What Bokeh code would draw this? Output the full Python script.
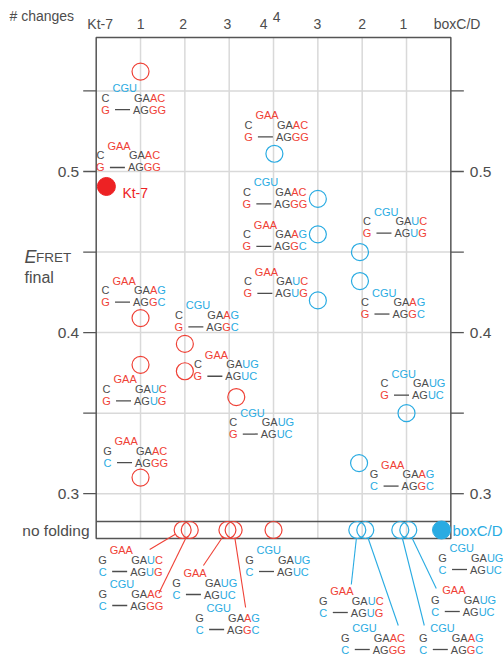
import math
from bokeh.plotting import figure
from bokeh.models import Range1d, ColumnDataSource
from bokeh.core.properties import value
from bokeh.embed import file_html
from bokeh.resources import INLINE

# ---------------- data ----------------
# top category labels (# changes away from Kt-7 on the left, from boxC/D on the right)
change_labels = ["Kt-7", "1", "2", "3", "4", "4", "3", "2", "1", "boxC/D"]
change_pos = [0.09, 1.0, 1.96, 2.96, 3.78, 4.07, 4.99, 6.0, 6.93, 8.14]

# E_FRET axis ticks
ytick_values = [0.3, 0.35, 0.4, 0.45, 0.5, 0.55]
ytick_labels = ["0.3", "", "0.4", "", "0.5", ""]

# sequence code: loop / closing pair / position 3 / position 4 ; K = Kt-7 like, B = boxC/D like
# variants measured in the Kt-7 context (red)
kt_x = [1.0, 1.0, 1.0, 1.0, 2.0, 2.0, 3.16]
kt_efret = [0.562, 0.409, 0.380, 0.310, 0.393, 0.376, 0.360]
kt_seq = ["BKKK", "KKKB", "KKBK", "KBKK", "BKKB", "KKBB", "BKBB"]

# variants measured in the boxC/D context (blue)
box_x = [4.02, 5.0, 5.0, 5.0, 5.95, 5.95, 5.93, 7.0]
box_efret = [0.511, 0.483, 0.461, 0.420, 0.450, 0.432, 0.319, 0.350]
box_seq = ["KKKK", "BKKK", "KKKB", "KKBK", "BKBK", "BKKB", "KBKB", "BKBB"]

# references
kt7_x, kt7_efret, kt7_seq = 0.23, 0.4907, "KKKK"
boxcd_x, boxcd_seq = 7.79, "BBBB"

# variants that do not fold
nf_kt_x = [1.95, 2.11, 2.96, 3.10, 4.0]
nf_kt_seq = ["KBBK", "BBKK", "KBBB", "BBKB", "BBBB"]
nf_box_x = [5.89, 6.07, 6.86, 7.04]
nf_box_seq = ["KBBK", "BBKK", "BBKB", "KBBB"]

# ---------------- style / layout ----------------
FONT = "Liberation Sans"
RED = "#EF4136"
RED_DOT = "#ED2224"
BLUE = "#29ABE2"
GREY = "#4D4D4D"
GRID = "#D9D9D9"
FRAME = "#555555"

W, H = 503, 655
U_PX, U0_PX = 44.33, 95.7          # px per category unit, px of u = 0
V_PX, V_REF, V_REF_PX = 1611.0, 0.5, 171.0
X0 = (0 - U0_PX) / U_PX
X1 = X0 + W / U_PX
Y1 = V_REF + (V_REF_PX - 0) / V_PX
Y0 = Y1 - H / V_PX


def px_x(u):
    return U0_PX + u * U_PX


def px_y(v):
    return V_REF_PX - (v - V_REF) * V_PX


def u_of(px):
    return (px - U0_PX) / U_PX


def v_of(py):
    return V_REF - (py - V_REF_PX) / V_PX


FRAME_TOP = v_of(37)
NF_TOP = v_of(521)
NF_BOTTOM = v_of(538)
NF_Y = v_of(529.5)
X_MIN, X_MAX = 0.0, 8.0

# annotation offsets (px) of each sequence label from its circle
kt_ann = [(-35, 26), (-35, -28), (-34, 24), (-33, -27), (-6, -29), (13, -7), (-3, 25)]
box_ann = [(-26, -29), (-71, -7), (-71, 0), (-70, -19), (7, -31), (5, 21), (15, 11), (-22, -30)]
kt7_ann = (-6, -31)
nf_kt_ann = [(-80, 29.5), (-87, 63.5), (-51, 52.5), (-34, 87.5), (-24, 29.5)]
nf_kt_lead = [(-33, 19.5), (-31, 63.5), (-24, 35.5), (12, 77.5), None]
nf_box_ann = [(-34, 70.5), (-20, 107.5), (23, 107.5), (27, 69.5)]
nf_box_lead = [(-6, 54.5), (33, 95.5), (24, 95.5), (28, 58.5)]
boxcd_ann = (1, 27.5)

SEQ_SIZE = 11
EM = {"G": 0.778, "A": 0.667, "C": 0.722, "U": 0.722}


def w(s):
    return sum(EM[ch] for ch in s) * SEQ_SIZE


p = figure(width=W, height=H, x_range=Range1d(X0, X1), y_range=Range1d(Y0, Y1),
           output_backend="svg", toolbar_location=None, x_axis_location=None,
           y_axis_location=None, min_border=0, min_border_left=0, min_border_right=0,
           min_border_top=0, min_border_bottom=0, outline_line_color=None)
p.grid.visible = False
p.background_fill_color = "white"
p.border_fill_color = "white"


def add_texts(xs, ys, texts, colors, size, align="left", baseline="middle", style="normal"):
    src = ColumnDataSource(dict(xx=xs, yy=ys, tt=texts, cc=colors))
    p.text(x="xx", y="yy", text="tt", text_color="cc", source=src, text_font=value(FONT),
           text_font_size=size, text_align=align, text_baseline=baseline,
           text_font_style=style)


# grid
p.segment(x0=[X_MIN] * len(ytick_values), x1=[X_MAX] * len(ytick_values),
          y0=ytick_values, y1=ytick_values, line_color=GRID, line_width=1.5)
vx = [1, 2, 3, 4, 5, 6, 7]
p.segment(x0=vx, x1=vx, y0=[NF_BOTTOM] * len(vx), y1=[FRAME_TOP] * len(vx),
          line_color=GRID, line_width=1.5)

# frame
p.quad(left=[X_MIN], right=[X_MAX], bottom=[NF_BOTTOM], top=[FRAME_TOP], fill_color=None,
       line_color=FRAME, line_width=1.5)
p.segment(x0=[X_MIN], x1=[X_MAX], y0=[NF_TOP], y1=[NF_TOP], line_color=FRAME, line_width=1.5)

# ticks
tl = 13 / U_PX
p.segment(x0=[X_MIN - tl] * 6, x1=[X_MIN] * 6, y0=ytick_values, y1=ytick_values,
          line_color=FRAME, line_width=1.3)
p.segment(x0=[X_MAX] * 6, x1=[X_MAX + tl] * 6, y0=ytick_values, y1=ytick_values,
          line_color=FRAME, line_width=1.3)
add_texts([X_MIN - 17 / U_PX] * 6, ytick_values, ytick_labels, [GREY] * 6, "15.5px", align="right")
add_texts([X_MAX + 19 / U_PX] * 6, ytick_values, ytick_labels, [GREY] * 6, "15.5px", align="left")

# top labels
top_py = [23, 23, 23, 23, 23, 16, 23, 23, 23, 23]
add_texts(change_pos, [v_of(py) for py in top_py], change_labels, [GREY] * 10, "14px", align="center")
add_texts([u_of(9)], [v_of(15)], ["# changes"], [GREY], "14px")

# y title
add_texts([u_of(24)], [v_of(256)], ["E"], [GREY], "18px", baseline="alphabetic", style="italic")
add_texts([u_of(35.5)], [v_of(257)], ["FRET"], [GREY], "13.5px", baseline="alphabetic")
add_texts([u_of(24)], [v_of(277)], ["final"], [GREY], "16px", baseline="alphabetic")
add_texts([u_of(89)], [NF_Y], ["no folding"], [GREY], "15.5px", align="right")

# ---------------- sequences ----------------
ax, ay, at, ac = [], [], [], []      # left-aligned parts
bx, by, bt, bc = [], [], [], []      # centred closing-pair letters
dx0, dx1, dy = [], [], []


def seq_parts(code):
    loop, close, s3, s4 = code
    parts = [(7, -9.5, "GAA" if loop == "K" else "CGU", RED if loop == "K" else BLUE),
             (28.5, 0, "GA", GREY)]
    x = 28.5 + w("GA")
    t3 = "A" if s3 == "K" else "U"
    parts.append((x, 0, t3, RED if s3 == "K" else BLUE))
    x += w(t3)
    parts.append((x, 0, "C" if s4 == "K" else "G", RED if s4 == "K" else BLUE))
    parts.append((27.5, 12, "AG", GREY))
    x = 27.5 + w("AG")
    b3 = "G" if s3 == "K" else "U"
    parts.append((x, 12, b3, RED if s3 == "K" else BLUE))
    x += w(b3)
    parts.append((x, 12, "G" if s4 == "K" else "C", RED if s4 == "K" else BLUE))
    pair = [(0, "C" if close == "K" else "G", GREY),
            (12, "G" if close == "K" else "C", RED if close == "K" else BLUE)]
    return parts, pair


def add_seq(u, v, off, code):
    xL = px_x(u) + off[0]
    y2 = px_y(v) + off[1]
    parts, pair = seq_parts(code)
    for ox, oy, t, c in parts:
        ax.append(u_of(xL + ox))
        ay.append(v_of(y2 + oy))
        at.append(t)
        ac.append(c)
    for oy, t, c in pair:
        bx.append(u_of(xL))
        by.append(v_of(y2 + oy))
        bt.append(t)
        bc.append(c)
    dx0.append(u_of(xL + 9.5))
    dx1.append(u_of(xL + 24.5))
    dy.append(v_of(y2 + 12))


lx0, lx1, ly0, ly1, lc = [], [], [], [], []


def add_leader(u, v, lead, color, r=8.5):
    cx, cy = px_x(u), px_y(v)
    L = math.hypot(lead[0], lead[1])
    ex, ey = cx + r * lead[0] / L, cy + r * lead[1] / L
    lx0.append(u_of(ex))
    ly0.append(v_of(ey))
    lx1.append(u_of(cx + lead[0]))
    ly1.append(v_of(cy + lead[1]))
    lc.append(color)


for u, v, code, off in zip(kt_x, kt_efret, kt_seq, kt_ann):
    add_seq(u, v, off, code)
for u, v, code, off in zip(box_x, box_efret, box_seq, box_ann):
    add_seq(u, v, off, code)
add_seq(kt7_x, kt7_efret, kt7_ann, kt7_seq)
add_seq(boxcd_x, NF_Y, boxcd_ann, boxcd_seq)
for u, code, off, lead in zip(nf_kt_x, nf_kt_seq, nf_kt_ann, nf_kt_lead):
    add_seq(u, NF_Y, off, code)
    if lead:
        add_leader(u, NF_Y, lead, RED)
for u, code, off, lead in zip(nf_box_x, nf_box_seq, nf_box_ann, nf_box_lead):
    add_seq(u, NF_Y, off, code)
    if lead:
        add_leader(u, NF_Y, lead, BLUE)

p.segment(x0=lx0, x1=lx1, y0=ly0, y1=ly1, line_color=lc, line_width=1.1)
p.segment(x0=dx0, x1=dx1, y0=dy, y1=dy, line_color=GREY, line_width=1.3)
add_texts(ax, ay, at, ac, f"{SEQ_SIZE}px")
add_texts(bx, by, bt, bc, f"{SEQ_SIZE}px", align="center")

# ---------------- points ----------------
p.scatter(kt_x, kt_efret, marker="circle", size=17, fill_color=None, line_color=RED, line_width=1.2)
p.scatter(box_x, box_efret, marker="circle", size=17, fill_color=None, line_color=BLUE, line_width=1.2)
p.scatter(nf_kt_x, [NF_Y] * len(nf_kt_x), marker="circle", size=17, fill_color=None,
          line_color=RED, line_width=1.2)
p.scatter(nf_box_x, [NF_Y] * len(nf_box_x), marker="circle", size=17, fill_color=None,
          line_color=BLUE, line_width=1.2)
p.scatter([kt7_x], [kt7_efret], marker="circle", size=18, fill_color=RED_DOT, line_color=RED_DOT)
p.scatter([boxcd_x], [NF_Y], marker="circle", size=18, fill_color=BLUE, line_color=BLUE)

add_texts([kt7_x + 16 / U_PX], [kt7_efret - 7 / V_PX], ["Kt-7"], [RED_DOT], "14px")
add_texts([boxcd_x + 11 / U_PX], [NF_Y], ["boxC/D"], [BLUE], "15px")

open("out.html", "w").write(file_html(p, INLINE))
